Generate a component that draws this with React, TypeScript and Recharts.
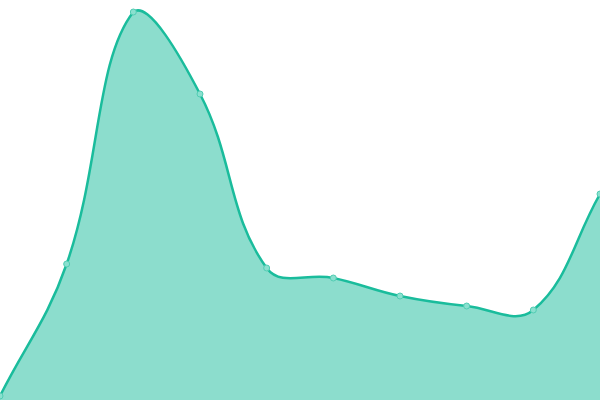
import { AreaChart, Area, XAxis, YAxis } from 'recharts';

const labels = ['1', '2', '3', '4', '5', '6', '7', '8', '9', '10'];
const values = [4, 136, 388, 306, 132, 122, 104, 94, 90, 206];

const data = labels.map((label, i) => ({ label, value: values[i] }));

const WIDTH = 600;
const HEIGHT = 400;
const TENSION = 0.4;

// spline with local control points (tension 0.4), control points kept inside the plot
function splineCurve(context: any) {
  let line = NaN;
  let pts: [number, number][] = [];
  const clampX = (v: number) => Math.max(0, Math.min(WIDTH, v));
  const clampY = (v: number) => Math.max(0, Math.min(HEIGHT, v));
  return {
    areaStart() {
      line = 0;
    },
    areaEnd() {
      line = NaN;
    },
    lineStart() {
      pts = [];
    },
    point(x: number, y: number) {
      pts.push([+x, +y]);
    },
    lineEnd() {
      const n = pts.length;
      if (n === 0) return;
      if (line) context.lineTo(pts[0][0], pts[0][1]);
      else context.moveTo(pts[0][0], pts[0][1]);
      const cps = pts.map((cur, i) => {
        const prev = pts[Math.max(0, i - 1)];
        const next = pts[Math.min(n - 1, i + 1)];
        const d01 = Math.hypot(cur[0] - prev[0], cur[1] - prev[1]);
        const d12 = Math.hypot(next[0] - cur[0], next[1] - cur[1]);
        const tot = d01 + d12 || 1;
        const fa = (TENSION * d01) / tot;
        const fb = (TENSION * d12) / tot;
        return {
          px: clampX(cur[0] - fa * (next[0] - prev[0])),
          py: clampY(cur[1] - fa * (next[1] - prev[1])),
          nx: clampX(cur[0] + fb * (next[0] - prev[0])),
          ny: clampY(cur[1] + fb * (next[1] - prev[1])),
        };
      });
      for (let i = 1; i < n; i++) {
        context.bezierCurveTo(cps[i - 1].nx, cps[i - 1].ny, cps[i].px, cps[i].py, pts[i][0], pts[i][1]);
      }
      if (line || (line !== 0 && n === 1)) context.closePath();
      line = 1 - line;
    },
  };
}

export default function App() {
  return (
    <div style={{ position: 'fixed', top: 0, left: 0, width: WIDTH, height: HEIGHT, background: '#fff' }}>
      <AreaChart width={WIDTH} height={HEIGHT} data={data} margin={{ top: 0, right: 0, bottom: 0, left: 0 }}>
        <XAxis dataKey="label" hide padding={{ left: 0, right: 0 }} />
        <YAxis hide domain={[0, 400]} />
        <Area
          type={splineCurve as any}
          dataKey="value"
          stroke="#1abc9c"
          strokeWidth={2.5}
          fill="#1abc9c"
          fillOpacity={0.5}
          dot={{ r: 3, fill: '#8ae0cf', stroke: '#52cdb3', strokeWidth: 1, fillOpacity: 1 }}
          activeDot={false}
          isAnimationActive={false}
        />
      </AreaChart>
    </div>
  );
}
